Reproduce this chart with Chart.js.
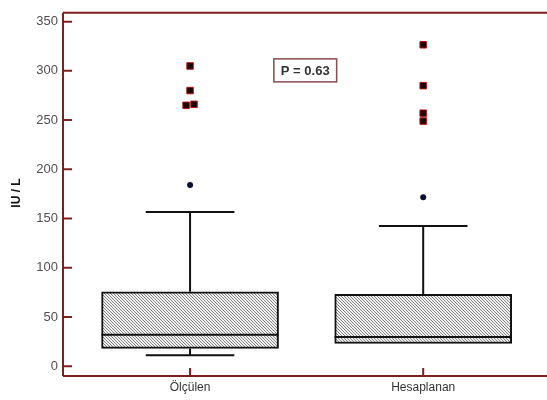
<!DOCTYPE html>
<html>
<head>
<meta charset="utf-8">
<script src="https://cdn.jsdelivr.net/npm/chart.js@4"></script>
<style>
html,body{margin:0;padding:0;background:#fff;}
#wrap{width:547px;height:400px;}
</style>
</head>
<body>
<div id="wrap"><canvas id="c" width="547" height="400"></canvas></div>
<script>
const categories = ['Ölçülen', 'Hesaplanan'];
const whiskerLow = [11, 23];
const q1 = [18, 23];
const median = [32, 29.5];
const q3 = [75.5, 73];
const whiskerHigh = [156.5, 142.5];
const farOutliers = [
  {x: 0, y: 305}, {x: 0, y: 280}, {x: -0.017, y: 265}, {x: 0.017, y: 266},
  {x: 1, y: 326.5}, {x: 1, y: 285}, {x: 1, y: 257}, {x: 1, y: 249}
];
const nearOutliers = [{x: 0, y: 184}, {x: 1, y: 171.5}];
const yTicks = [0, 50, 100, 150, 200, 250, 300, 350];
const yTitle = 'IU / L';
const pLabel = 'P = 0.63';

const axisColor = '#7d1f1f';
const FONT = '"Liberation Sans", Arial, sans-serif';

function hatch() {
  const p = document.createElement('canvas');
  p.width = 3; p.height = 3;
  const g = p.getContext('2d');
  g.fillStyle = '#f4f4f4';
  g.fillRect(0, 0, 3, 3);
  g.fillStyle = '#808080';
  for (let i = 0; i < 3; i++) g.fillRect(i, i, 1, 1);
  return document.getElementById('c').getContext('2d').createPattern(p, 'repeat');
}

const boxPlugin = {
  id: 'boxPlugin',
  beforeDatasetsDraw(chart) {
    const {ctx, chartArea: a, scales: {x, y}} = chart;
    const right = chart.width;
    ctx.save();
    ctx.strokeStyle = axisColor;
    ctx.lineWidth = 2;
    ctx.beginPath();
    ctx.moveTo(a.left, a.top); ctx.lineTo(right, a.top);
    ctx.moveTo(a.left, a.top); ctx.lineTo(a.left, a.bottom);
    ctx.moveTo(a.left, a.bottom); ctx.lineTo(right, a.bottom);
    ctx.stroke();
    ctx.beginPath();
    yTicks.forEach(v => { const py = y.getPixelForValue(v); ctx.moveTo(a.left, py); ctx.lineTo(a.left + 9, py); });
    categories.forEach((c, i) => { const px = x.getPixelForValue(i); ctx.moveTo(px, a.bottom); ctx.lineTo(px, a.bottom - 8); });
    ctx.stroke();
    ctx.strokeStyle = '#111';
    ctx.lineWidth = 2;
    categories.forEach((c, i) => {
      const cx = x.getPixelForValue(i);
      const capHalf = (x.getPixelForValue(i + 0.19) - cx);
      const pts = [[whiskerHigh[i], q3[i]], [whiskerLow[i], q1[i]]];
      pts.forEach(([w, q]) => {
        if (Math.abs(w - q) < 0.5) return;
        const pw = y.getPixelForValue(w), pq = y.getPixelForValue(q);
        ctx.beginPath();
        ctx.moveTo(cx, pw); ctx.lineTo(cx, pq);
        ctx.moveTo(cx - capHalf, pw); ctx.lineTo(cx + capHalf, pw);
        ctx.stroke();
      });
    });
    ctx.restore();
  },
  afterDatasetsDraw(chart) {
    const {ctx, scales: {x, y}} = chart;
    ctx.save();
    ctx.strokeStyle = '#111';
    ctx.lineWidth = 2;
    categories.forEach((c, i) => {
      const l = x.getPixelForValue(i - 0.38), r = x.getPixelForValue(i + 0.38);
      const pm = y.getPixelForValue(median[i]);
      ctx.beginPath(); ctx.moveTo(l, pm); ctx.lineTo(r, pm); ctx.stroke();
    });
    const px = x.getPixelForValue(0.494), py = y.getPixelForValue(300.5);
    ctx.font = 'bold 13px ' + FONT;
    ctx.textAlign = 'center';
    ctx.textBaseline = 'middle';
    const w = ctx.measureText(pLabel).width + 14;
    ctx.fillStyle = '#fff';
    ctx.fillRect(px - w / 2, py - 11.5, w, 23);
    ctx.strokeStyle = '#8a4a4a';
    ctx.lineWidth = 1.5;
    ctx.strokeRect(px - w / 2, py - 11.5, w, 23);
    ctx.fillStyle = '#333';
    ctx.fillText(pLabel, px, py + 1);
    ctx.restore();
  },
  afterDraw(chart) {
    const {ctx} = chart;
    ctx.save();
    ctx.translate(17, 193);
    ctx.rotate(-Math.PI / 2);
    ctx.font = 'bold 12px ' + FONT;
    ctx.fillStyle = '#111';
    ctx.textAlign = 'center';
    ctx.textBaseline = 'middle';
    ctx.fillText(yTitle, 0, 0);
    ctx.restore();
  }
};

new Chart(document.getElementById('c'), {
  type: 'bar',
  data: {
    datasets: [
      {
        type: 'bar',
        data: categories.map((c, i) => ({x: i, y: [q1[i], q3[i]]})),
        backgroundColor: hatch(),
        borderColor: '#111',
        borderWidth: 2,
        borderSkipped: false,
        barThickness: 177,
        order: 2
      },
      {
        type: 'scatter',
        data: farOutliers,
        pointStyle: 'rect',
        pointRadius: 4.6,
        backgroundColor: '#1a0505',
        borderColor: '#b01818',
        borderWidth: 1,
        order: 1
      },
      {
        type: 'scatter',
        data: nearOutliers,
        pointStyle: 'circle',
        pointRadius: 3,
        backgroundColor: '#0d0d3a',
        borderColor: '#0d0d3a',
        borderWidth: 0,
        order: 1
      }
    ]
  },
  options: {
    responsive: false,
    animation: false,
    events: [],
    layout: {padding: {left: 0, right: 0, top: 9, bottom: 0}},
    plugins: {legend: {display: false}, tooltip: {enabled: false}},
    scales: {
      x: {
        type: 'linear',
        offset: false,
        min: -0.545,
        max: 1.507,
        afterBuildTicks: s => { s.ticks = categories.map((c, i) => ({value: i})); },
        afterFit: s => { s.height = 24; },
        ticks: {
          callback: v => categories[v],
          color: '#333',
          font: {family: FONT, size: 12},
          padding: 4,
          maxRotation: 0
        },
        grid: {display: false, drawTicks: false},
        border: {display: false}
      },
      y: {
        type: 'linear',
        min: -10,
        max: 359,
        afterBuildTicks: s => { s.ticks = yTicks.map(v => ({value: v})); },
        afterFit: s => { s.width = 63; },
        ticks: {
          color: '#505050',
          font: {family: FONT, size: 13},
          padding: 5
        },
        grid: {display: false, drawTicks: false},
        border: {display: false}
      }
    }
  },
  plugins: [boxPlugin]
});
</script>
</body>
</html>
